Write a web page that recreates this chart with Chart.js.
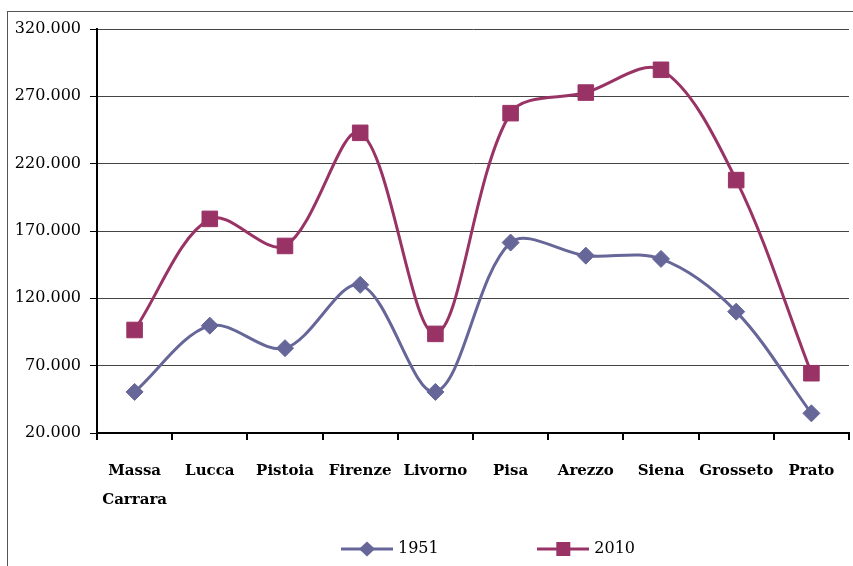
<!DOCTYPE html>
<html><head><meta charset="utf-8">
<script src="https://cdn.jsdelivr.net/npm/chart.js@4.4.1/dist/chart.umd.min.js"></script>
<style>html,body{margin:0;padding:0;background:#fff}#wrap{position:relative;width:853px;height:566px}</style>
</head><body><div id="wrap"><canvas id="c" width="853" height="566"></canvas></div>
<script>
const categories = [["Massa","Carrara"],"Lucca","Pistoia","Firenze","Livorno","Pisa","Arezzo","Siena","Grosseto","Prato"];
const seriesNames = ["1951","2010"];
const values1951 = [50500, 99700, 83000, 130000, 50500, 161400, 151700, 149300, 110100, 34600];
const values2010 = [96500, 179000, 158900, 242900, 93600, 257500, 272800, 289700, 207800, 64400];
const yTickValues = [20000, 70000, 120000, 170000, 220000, 270000, 320000];

const COL1 = '#666699', COL2 = '#993366';
function fmt(v){ return String(v).replace(/\B(?=(\d{3})+(?!\d))/g, '.'); }

function legendIcon(color, shape){
  const c = document.createElement('canvas');
  c.width = 52; c.height = 18;
  const g = c.getContext('2d');
  g.strokeStyle = color; g.lineWidth = 3;
  g.beginPath(); g.moveTo(0, 9); g.lineTo(52, 9); g.stroke();
  g.fillStyle = color;
  g.beginPath();
  if (shape === 'diamond') { g.moveTo(26, 1.5); g.lineTo(34, 9); g.lineTo(26, 16.5); g.lineTo(18, 9); g.closePath(); }
  else { g.rect(19, 2, 14, 14); }
  g.fill();
  return c;
}
const icon1 = legendIcon(COL1, 'diamond');
const icon2 = legendIcon(COL2, 'square');

const LEGEND_PAD = 10;
const framePlugin = {
  id: 'frame',
  beforeDraw(chart){
    const ctx = chart.ctx;
    ctx.save();
    ctx.fillStyle = '#fff';
    ctx.fillRect(0, 0, chart.width, chart.height);
    ctx.strokeStyle = '#555';
    ctx.lineWidth = 1;
    ctx.strokeRect(7.5, 11.5, 900, 600);
    ctx.restore();
  },
  afterLayout(chart){
    const lg = chart.legend;
    if (!lg || !lg.lineWidths) return;
    const startX = (lg.left + LEGEND_PAD + lg.right - lg.lineWidths[0]) / 2;
    const dx = 344 - startX;
    const dy = 531 - lg.top;
    lg.left += dx; lg.right += dx; lg.top += dy; lg.bottom += dy;
  }
};

const noPad = () => ({ left: 0, top: 0, right: 0, bottom: 0 });

new Chart(document.getElementById('c'), {
  type: 'line',
  data: {
    labels: categories,
    datasets: [
      { label: seriesNames[0], data: values1951, borderColor: COL1, backgroundColor: COL1,
        borderWidth: 3, tension: 0.33, pointStyle: 'rectRot', pointRadius: 8.5,
        pointBackgroundColor: COL1, pointBorderColor: COL1, pointBorderWidth: 1 },
      { label: seriesNames[1], data: values2010, borderColor: COL2, backgroundColor: COL2,
        borderWidth: 3, tension: 0.33, pointStyle: 'rect', pointRadius: 11,
        pointBackgroundColor: COL2, pointBorderColor: COL2, pointBorderWidth: 1 }
    ]
  },
  options: {
    responsive: false,
    animation: false,
    devicePixelRatio: 1,
    layout: { autoPadding: false, padding: { left: 0, top: 29, right: 4, bottom: 0 } },
    plugins: {
      tooltip: { enabled: false },
      legend: {
        position: 'bottom',
        labels: {
          usePointStyle: true,
          pointStyleWidth: 46,
          padding: LEGEND_PAD,
          color: '#000',
          font: { family: 'DejaVu Serif', size: 16 },
          generateLabels(chart){
            return chart.data.datasets.map((ds, i) => ({
              text: i === 0 ? ds.label + '\u00A0'.repeat(18) : ds.label,
              fillStyle: ds.borderColor, strokeStyle: ds.borderColor, lineWidth: 0,
              pointStyle: i === 0 ? icon1 : icon2, hidden: false, datasetIndex: i, fontColor: '#000'
            }));
          }
        }
      }
    },
    scales: {
      x: {
        offset: true,
        grid: { offset: true, drawOnChartArea: false, drawTicks: true, tickLength: 7, color: '#000', lineWidth: 2 },
        border: { color: '#000', width: 2 },
        ticks: { color: '#000', maxRotation: 0, minRotation: 0, autoSkip: false, padding: 17,
                 font: { family: 'DejaVu Serif', size: 15, weight: 'bold', lineHeight: 1.93 } },
        afterFit(s){ s.height = 97; s.paddingLeft = 0; s.paddingRight = 0; s.getPadding = noPad; }
      },
      y: {
        min: 20000, max: 320000,
        afterBuildTicks(s){ s.ticks = yTickValues.map(v => ({ value: v })); },
        grid: { color: '#444', lineWidth: 1, drawTicks: true, tickLength: 7, tickColor: '#000' },
        border: { color: '#000', width: 2 },
        ticks: { color: '#000', padding: 9, callback: v => fmt(v),
                 font: { family: 'DejaVu Serif', size: 16 } },
        afterFit(s){ s.width = 97; s.paddingLeft = 0; s.paddingRight = 0; }
      }
    }
  },
  plugins: [framePlugin]
});
</script>
</body></html>
